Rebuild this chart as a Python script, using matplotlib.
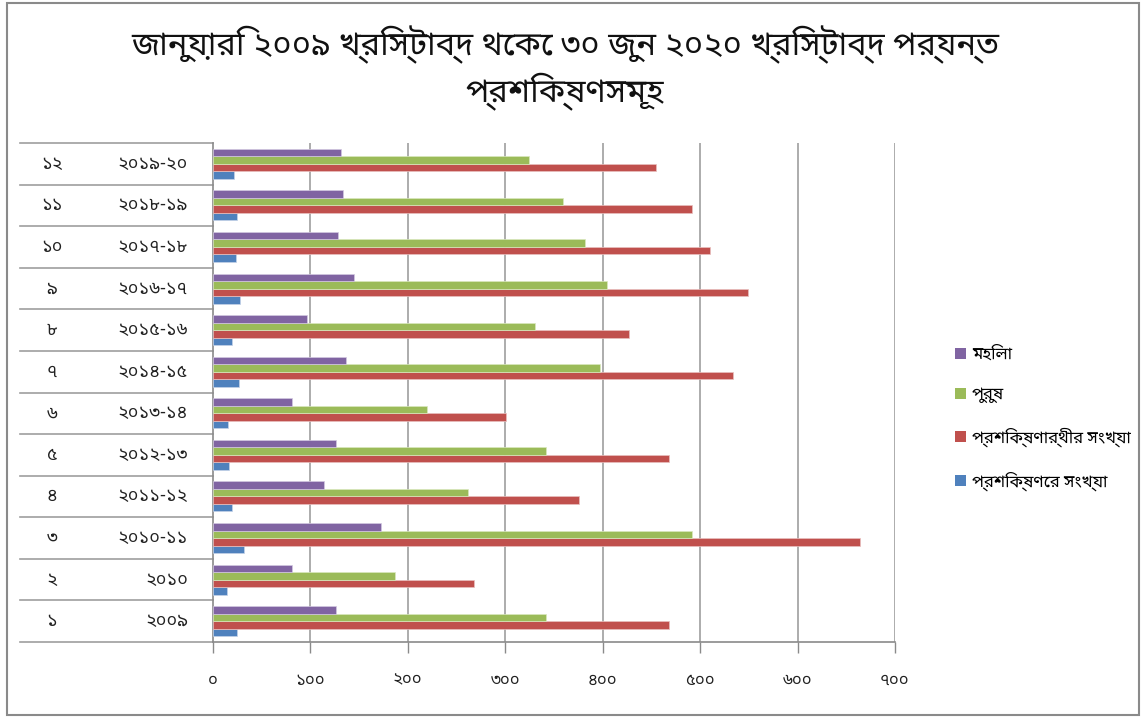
import matplotlib
matplotlib.use("Agg")
import matplotlib.pyplot as plt
import matplotlib.font_manager as fm
from matplotlib.patches import Patch, Rectangle
from matplotlib.transforms import blended_transform_factory
import numpy as np

# ---------------- data ----------------
serials = ["১", "২", "৩", "৪", "৫", "৬", "৭", "৮", "৯", "১০", "১১", "১২"]
years = ["২০০৯", "২০১০", "২০১০-১১", "২০১১-১২", "২০১২-১৩", "২০১৩-১৪",
         "২০১৪-১৫", "২০১৫-১৬", "২০১৬-১৭", "২০১৭-১৮", "২০১৮-১৯", "২০১৯-২০"]
women = [126, 81, 172, 114, 126, 81, 137, 96, 145, 128, 133, 131]
men = [342, 187, 492, 262, 342, 220, 397, 331, 404, 382, 359, 324]
trainees = [468, 268, 664, 376, 468, 301, 534, 427, 549, 510, 492, 455]
trainings = [25, 14, 32, 19, 16, 15, 27, 20, 28, 24, 25, 22]
series_names = ["মহিলা", "পুরুষ", "প্রশিক্ষণার্থীর সংখ্যা", "প্রশিক্ষণের সংখ্যা"]
xticks = [0, 100, 200, 300, 400, 500, 600, 700]
xtick_labels = ["০", "১০০", "২০০", "৩০০", "৪০০", "৫০০", "৬০০", "৭০০"]
title_lines = ["জানুয়ারি ২০০৯ খ্রিস্টাব্দ থেকে ৩০ জুন ২০২০ খ্রিস্টাব্দ পর্যন্ত",
               "প্রশিক্ষণসমূহ"]

# ---------------- fonts ----------------
available = set(f.name for f in fm.fontManager.ttflist)
fams = []
for cand in ["Noto Sans Bengali", "Noto Serif Bengali", "Lohit Bengali",
             "Mukti Narrow", "FreeSans", "FreeSerif", "Vrinda", "Nirmala UI"]:
    if cand in available:
        fams.append(cand)
fams.append("DejaVu Sans")
plt.rcParams["font.family"] = fams

colors = {"women": "#8064A2", "men": "#9BBB59", "trainees": "#C0504D", "trainings": "#4F81BD"}

W, H = 1142, 717
fig = plt.figure(figsize=(W / 100, H / 100), dpi=100)

# outer frame
fig.patches.append(Rectangle((7 / W, 2 / H), 1132 / W, 712 / H, transform=fig.transFigure,
                             fill=False, edgecolor="#8a8a8a", lw=1.5))

left, right, top, bottom = 213, 895, 143, 642
ax = fig.add_axes([left / W, 1 - bottom / H, (right - left) / W, (bottom - top) / H])

y = np.arange(len(years))
h = 0.18
ax.barh(y - 1.5 * h, trainings, height=h, color=colors["trainings"], edgecolor="#c5d3e8", lw=0.5, zorder=3)
ax.barh(y - 0.5 * h, trainees, height=h, color=colors["trainees"], edgecolor="#e8c0bf", lw=0.5, zorder=3)
ax.barh(y + 0.5 * h, men, height=h, color=colors["men"], edgecolor="#d9e8bf", lw=0.5, zorder=3)
ax.barh(y + 1.5 * h, women, height=h, color=colors["women"], edgecolor="#d3c8e0", lw=0.5, zorder=3)

ax.set_xlim(0, 700)
ax.set_ylim(-0.5, len(years) - 0.5)
ax.set_xticks(xticks)
ax.set_xticklabels(xtick_labels, fontsize=12, color="#222222")
ax.tick_params(axis="x", direction="out", length=8, width=1, color="#8a8a8a", pad=14)
ax.set_yticks([])
for xv in xticks[1:]:
    ax.axvline(xv, color="#9e9e9e", lw=1.2, zorder=1)
for s in ["top", "right"]:
    ax.spines[s].set_visible(False)
ax.spines["left"].set_color("#8a8a8a")
ax.spines["bottom"].set_color("#8a8a8a")
ax.spines["left"].set_linewidth(1.2)
ax.spines["bottom"].set_linewidth(1.2)

# category table at left
tr = blended_transform_factory(ax.transAxes, ax.transData)
x_start = (20 - left) / (right - left)
for b in np.arange(-0.5, len(years), 1.0):
    ax.plot([x_start, 0], [b, b], transform=tr, color="#9e9e9e", lw=1.2, clip_on=False)
x_serial = (52 - left) / (right - left)
x_year = (188 - left) / (right - left)
for i in range(len(years)):
    ax.text(x_serial, i, serials[i], transform=tr, ha="center", va="center", fontsize=13, color="#222222")
    ax.text(x_year, i, years[i], transform=tr, ha="right", va="center", fontsize=13, color="#222222")

# title
fig.text(565 / W, 1 - 45 / H, title_lines[0], ha="center", va="center", fontsize=23.5, color="#111111")
fig.text(565 / W, 1 - 92 / H, title_lines[1], ha="center", va="center", fontsize=23.5, color="#111111")

# legend
handles = [Patch(facecolor=colors["women"]), Patch(facecolor=colors["men"]),
           Patch(facecolor=colors["trainees"]), Patch(facecolor=colors["trainings"])]
fig.legend(handles, series_names, loc="upper left", bbox_to_anchor=(948 / W, 1 - 340 / H),
           frameon=False, fontsize=12, handlelength=0.65, handleheight=0.65,
           handletextpad=0.4, labelspacing=1.45, borderaxespad=0)

fig.savefig("out.png", dpi=100)
